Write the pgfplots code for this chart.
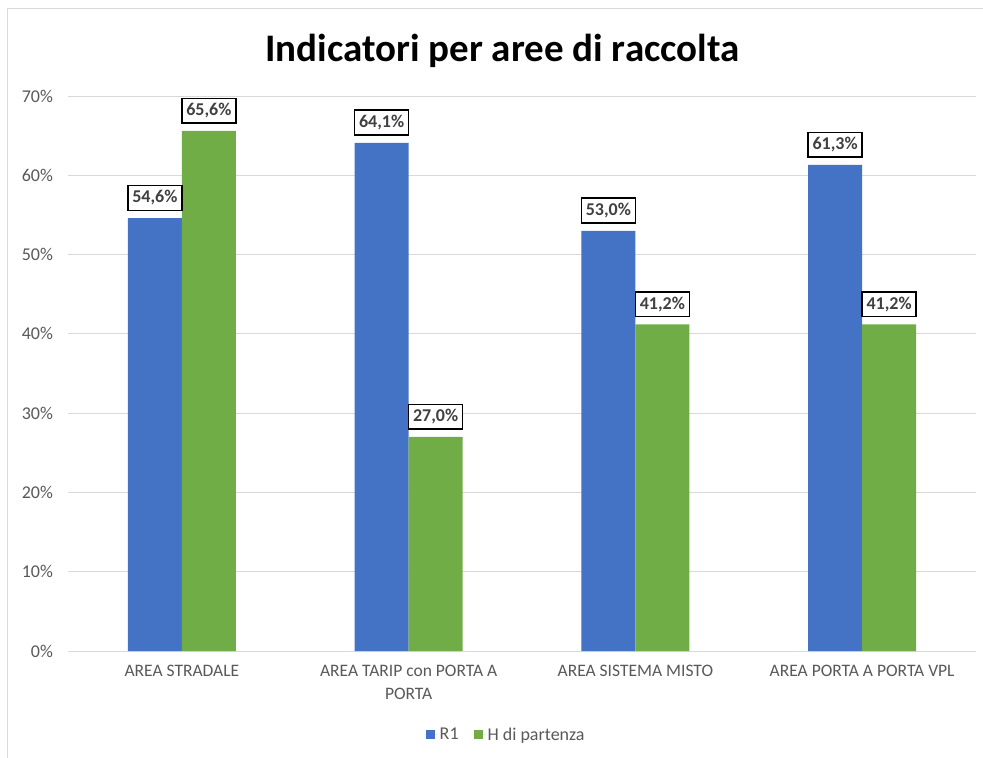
\documentclass[border=0pt]{standalone}
\usepackage{fontspec}
\setmainfont{Carlito}
\usepackage{pgfplots}
\pgfplotsset{compat=1.18}
\definecolor{cblue}{HTML}{4472C4}
\definecolor{cgreen}{HTML}{70AD47}
\definecolor{cgrid}{HTML}{D9D9D9}
\definecolor{ctext}{HTML}{595959}
\definecolor{clab}{HTML}{404040}
\begin{document}
\begin{tikzpicture}[x=1pt,y=1pt]
\path[use as bounding box] (-68.5,-107) rectangle (914.5,651);
\fill[white] (-68.5,-107) rectangle (914.5,651);
\draw[cgrid, line width=1pt] (-60.5,-120) -- (-60.5,642) -- (930,642);
\begin{axis}[
  at={(0,0)}, anchor=south west,
  scale only axis, width=907pt, height=555pt,
  ybar=0pt, bar width=54pt,
  xmin=-0.5, xmax=3.5, ymin=0, ymax=70,
  xtick={0,1,2,3},
  xticklabels={AREA STRADALE, {AREA TARIP con PORTA A\\PORTA}, AREA SISTEMA MISTO, AREA PORTA A PORTA VPL},
  xticklabel style={align=center, font=\fontsize{17.5}{23}\selectfont, text=ctext, yshift=-11pt},
  ytick={0,10,...,70},
  yticklabel={\pgfmathprintnumber{\tick}\%},
  yticklabel style={font=\fontsize{18}{20}\selectfont, text=ctext, xshift=-12pt},
  /pgf/number format/assume math mode=true,
  major tick length=0pt,
  ymajorgrids, grid style={cgrid, line width=1pt},
  axis line style={draw=none},
  nodes near coords={\pgfmathprintnumber[fixed,fixed zerofill,precision=1,use comma,assume math mode=true]{\pgfplotspointmeta}\%},
  every node near coord/.append style={font=\bfseries\fontsize{18}{20}\selectfont, text=clab, draw=black, line width=1.5pt, fill=white, inner xsep=4.5pt, inner ysep=5pt, anchor=south, yshift=7pt},
  legend columns=2,
  legend style={at={(rel axis cs:0.482,-0.151)}, anchor=center, draw=none, font=\fontsize{18}{20}\selectfont, text=ctext, /tikz/every even column/.append style={column sep=12pt}},
  legend image code/.code={\fill[#1] (0pt,-4.5pt) rectangle (9pt,4.5pt); \path (-1pt,0pt) -- (12pt,0pt);},
]
\addplot[fill=cblue, draw=none] coordinates {(0,54.6) (1,64.1) (2,53.0) (3,61.3)};
\addplot[fill=cgreen, draw=none] coordinates {(0,65.6) (1,27.0) (2,41.2) (3,41.2)};
\legend{R1, H di partenza}
\end{axis}
\node[font=\bfseries\fontsize{39}{42}\selectfont, text=black] at (434,600) {Indicatori per aree di raccolta};
\end{tikzpicture}
\end{document}
